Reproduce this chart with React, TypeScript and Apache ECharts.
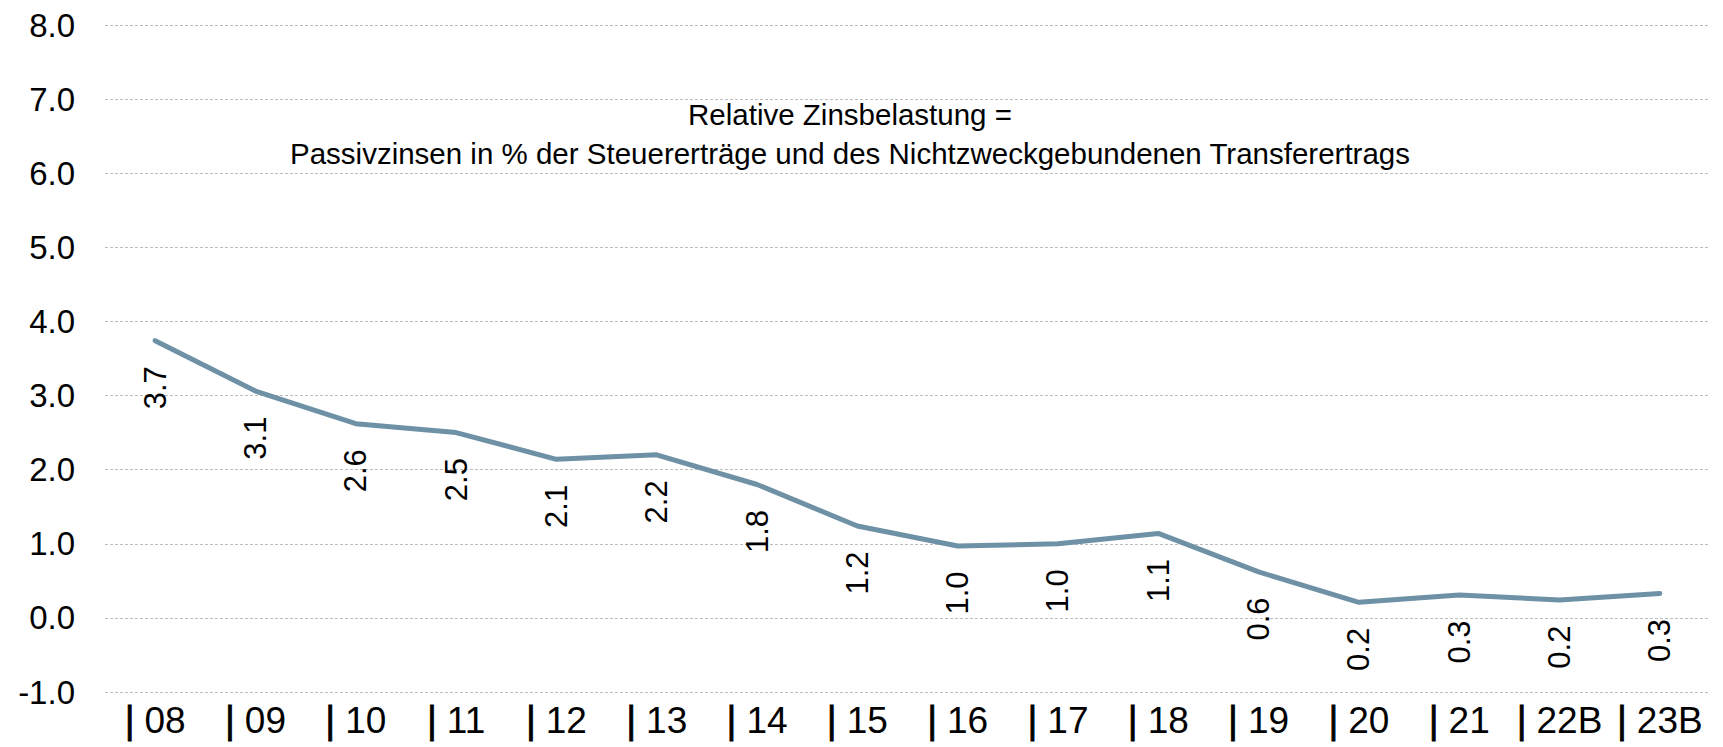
import React, { useEffect, useRef } from "react";
import * as echarts from "echarts";

const categories = ["08", "09", "10", "11", "12", "13", "14", "15", "16", "17", "18", "19", "20", "21", "22B", "23B"];
const values = [3.74, 3.06, 2.62, 2.5, 2.14, 2.2, 1.8, 1.24, 0.97, 1.0, 1.14, 0.62, 0.21, 0.31, 0.24, 0.33];
const yTicks = { min: -1, max: 8, interval: 1 };
const titleLines = [
  "Relative Zinsbelastung =",
  "Passivzinsen in % der Steuererträge und des Nichtzweckgebundenen Transferertrags",
];

const FONT = "'Liberation Sans', Arial, Helvetica, sans-serif";

export default function App() {
  const ref = useRef<HTMLDivElement>(null);
  useEffect(() => {
    if (!ref.current) return;
    const chart = echarts.init(ref.current, null, { renderer: "svg" });
    chart.setOption({
      animation: false,
      backgroundColor: "#ffffff",
      title: {
        text: titleLines.join("\n"),
        left: 845,
        top: 90,
        textAlign: "center",
        textStyle: {
          fontFamily: FONT,
          fontSize: 29.5,
          lineHeight: 39,
          fontWeight: "normal",
          color: "#000000",
        },
      },
      grid: { left: 105, right: 13, top: 25, bottom: 55, containLabel: false },
      xAxis: {
        type: "category",
        data: categories,
        boundaryGap: true,
        axisLine: { show: false },
        axisTick: { show: false },
        splitLine: { show: false },
        axisLabel: {
          interval: 0,
          margin: 9,
          fontFamily: FONT,
          fontSize: 37,
          color: "#000000",
          formatter: (v: string) => "{b||}{t|" + v + "}",
          rich: {
            b: { fontFamily: FONT, fontSize: 38, color: "#000000", textStrokeWidth: 1, textBorderColor: "#000000", textBorderWidth: 0.8 },
            t: { fontFamily: FONT, fontSize: 37, color: "#000000", padding: [0, 0, 0, 10] },
          },
        },
      },
      yAxis: {
        type: "value",
        min: yTicks.min,
        max: yTicks.max,
        interval: yTicks.interval,
        axisLine: { show: false },
        axisTick: { show: false },
        axisLabel: {
          margin: 30,
          fontFamily: FONT,
          fontSize: 33,
          color: "#000000",
          formatter: (v: number) => v.toFixed(1),
        },
        splitLine: {
          show: true,
          lineStyle: { color: "#bdbdbd", width: 1, type: [3, 2] },
        },
      },
      series: [
        {
          type: "line",
          data: values,
          symbol: "circle",
          symbolSize: 1,
          showSymbol: true,
          itemStyle: { color: "#6e91a6" },
          lineStyle: { color: "#6e91a6", width: 5, cap: "round", join: "round" },
          label: {
            show: true,
            position: "bottom",
            distance: 25,
            rotate: 90,
            align: "right",
            verticalAlign: "middle",
            fontFamily: FONT,
            fontSize: 31,
            color: "#000000",
            formatter: (p: any) => Number(p.value).toFixed(1),
          },
        },
      ],
    });
    return () => chart.dispose();
  }, []);
  return (
    <div
      ref={ref}
      style={{ position: "fixed", left: 0, top: 0, width: 1723, height: 747 }}
    />
  );
}
